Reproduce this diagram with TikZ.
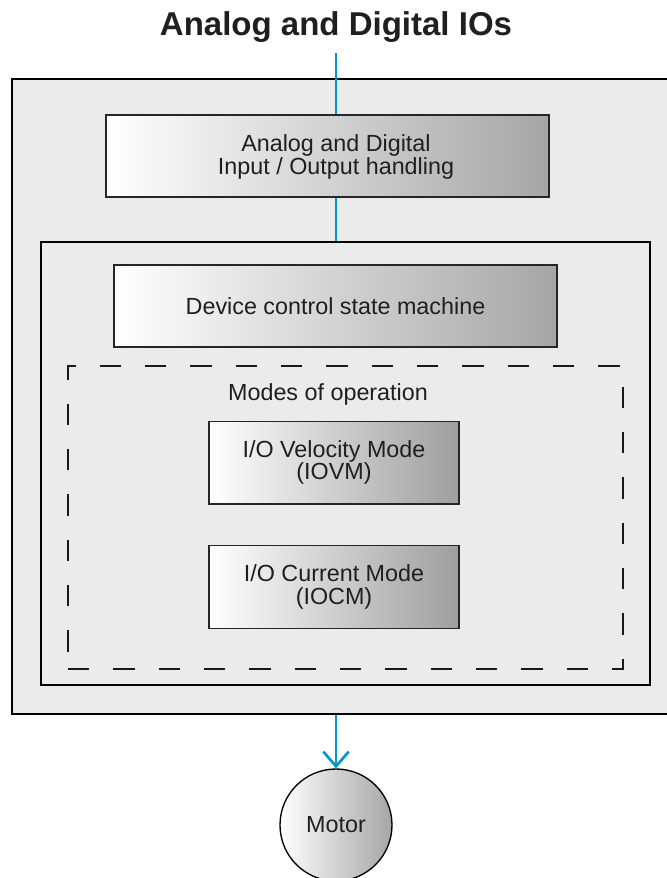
\documentclass[tikz,border=0pt]{standalone}
\usepackage{fontspec}
\setmainfont{Liberation Sans}
\usetikzlibrary{positioning, arrows.meta}
\definecolor{iblue}{RGB}{0,150,208}
\definecolor{panel}{RGB}{235,235,235}

\begin{document}
\begin{tikzpicture}[x=0.75pt, y=-0.75pt,
  every node/.style={font=\fontsize{17.5}{17}\selectfont, text=black!88},
  frame/.style={draw=black, line width=1.3pt, fill=panel, inner sep=0pt},
  blockbox/.style={draw=black!85, line width=1pt, left color=white, right color=black!35,
    align=center, minimum width=332.25pt, minimum height=61.5pt, inner sep=0pt},
  modebox/.style={blockbox, minimum width=187.5pt, minimum height=62pt, right color=black!38},
  link/.style={draw=iblue, line width=2pt}]
  \clip (0,0) rectangle (667,878);
  \node[font=\bfseries\fontsize{24.75}{28}\selectfont, anchor=base] (title) at (336,36) {Analog and Digital IOs};
  \node[frame, minimum width=516pt, minimum height=476.25pt] (outer) at (356,396.5) {};
  \node[frame, minimum width=456.75pt, minimum height=332.25pt] (inner) at (345.5,463.5) {};
  \node[draw=black!90, line width=1.1pt, dash pattern=on 16pt off 18pt, minimum width=416.25pt, minimum height=227.25pt, inner sep=0pt] (modes) at (345.5,517.5) {};
  \node[blockbox] (io) at (327.5,156) {};
  \node[align=center] (iolbl) at (336,157) {Analog and Digital\\Input / Output handling};
  \node[blockbox] (dcsm) at (335.5,306) {Device control state machine};
  \node[anchor=base] (modeslbl) at (328,400) {Modes of operation};
  \node[modebox] (iovm) at (334,462.5) {I/O Velocity Mode\\(IOVM)};
  \node[modebox] (iocm) at (334,587) {I/O Current Mode\\(IOCM)};
  \node[circle, draw=black, line width=1pt, left color=white, right color=black!35, minimum size=84pt, inner sep=0pt] (motor) at (336,825) {Motor};
  \coordinate (in) at (336,53);
  \draw[link] (in) -- (in |- io.north);
  \draw[link] (in |- io.south) -- (in |- inner.north);
  \draw[link, -{Straight Barb[length=11pt, width=19pt, line width=2pt]}] (in |- outer.south) -- (motor.north);
\end{tikzpicture}
\end{document}
